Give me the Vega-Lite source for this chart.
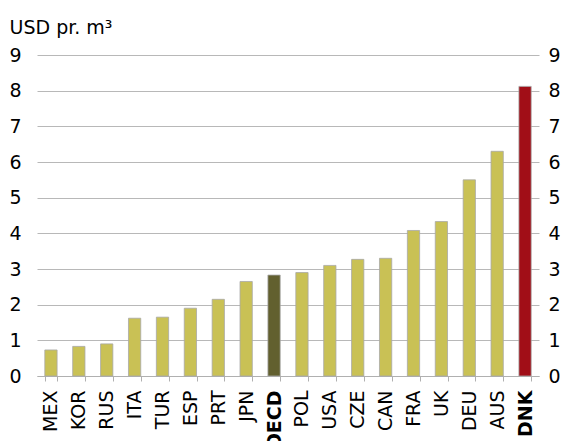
{
  "$schema": "https://vega.github.io/schema/vega-lite/v6.json",
  "width": 502,
  "height": 321,
  "autosize": {"type": "none"},
  "padding": {"left": 37, "top": 55, "right": 30, "bottom": 65},
  "background": "white",
  "config": {
    "font": "DejaVu Sans",
    "view": {"stroke": null},
    "axis": {"labelFont": "DejaVu Sans", "titleFont": "DejaVu Sans", "labelColor": "#000000", "titleColor": "#000000"}
  },
  "data": {
    "values": [
      {"country": "MEX", "value": 0.73, "group": "other"},
      {"country": "KOR", "value": 0.83, "group": "other"},
      {"country": "RUS", "value": 0.9, "group": "other"},
      {"country": "ITA", "value": 1.62, "group": "other"},
      {"country": "TUR", "value": 1.65, "group": "other"},
      {"country": "ESP", "value": 1.9, "group": "other"},
      {"country": "PRT", "value": 2.15, "group": "other"},
      {"country": "JPN", "value": 2.65, "group": "other"},
      {"country": "OECD", "value": 2.83, "group": "oecd"},
      {"country": "POL", "value": 2.9, "group": "other"},
      {"country": "USA", "value": 3.1, "group": "other"},
      {"country": "CZE", "value": 3.27, "group": "other"},
      {"country": "CAN", "value": 3.3, "group": "other"},
      {"country": "FRA", "value": 4.08, "group": "other"},
      {"country": "UK", "value": 4.33, "group": "other"},
      {"country": "DEU", "value": 5.5, "group": "other"},
      {"country": "AUS", "value": 6.3, "group": "other"},
      {"country": "DNK", "value": 8.12, "group": "dnk"}
    ]
  },
  "encoding": {
    "x": {
      "field": "country",
      "type": "nominal",
      "sort": null,
      "scale": {"paddingInner": 0.56, "paddingOuter": 0.28},
      "axis": {
        "title": null,
        "labelAngle": -90,
        "labelAlign": "right",
        "labelBaseline": "middle",
        "labelFontSize": 19,
        "labelPadding": 9,
        "labelFontWeight": {"expr": "datum.value == 'OECD' || datum.value == 'DNK' ? 'bold' : 'normal'"},
        "tickBand": "extent",
        "ticks": true,
        "tickSize": 5,
        "tickColor": "#b0b0b0",
        "domainColor": "#b0b0b0",
        "grid": false
      }
    },
    "y": {
      "field": "value",
      "type": "quantitative",
      "scale": {"domain": [0, 9], "nice": false}
    }
  },
  "layer": [
    {
      "mark": {"type": "bar", "stroke": "#a8a8a8", "strokeWidth": 0.8},
      "encoding": {
        "y": {
          "field": "value",
          "type": "quantitative",
          "scale": {"domain": [0, 9], "nice": false},
          "axis": {
            "orient": "left",
            "title": "USD pr. m³",
            "titleAngle": 0,
            "titleAlign": "left",
            "titleBaseline": "alphabetic",
            "titleX": -28,
            "titleY": -22,
            "titleFontSize": 19,
            "titleFontWeight": "normal",
            "values": [0, 1, 2, 3, 4, 5, 6, 7, 8, 9],
            "labelFontSize": 19,
            "labelPadding": 16,
            "ticks": false,
            "domain": false,
            "grid": true,
            "gridColor": "#b8b8b8",
            "gridWidth": 1
          }
        },
        "color": {
          "field": "group",
          "type": "nominal",
          "scale": {"domain": ["other", "oecd", "dnk"], "range": ["#c9c155", "#62602f", "#a10e17"]},
          "legend": null
        }
      }
    },
    {
      "mark": {"type": "bar", "opacity": 0},
      "encoding": {
        "y": {
          "field": "value",
          "type": "quantitative",
          "scale": {"domain": [0, 9], "nice": false},
          "axis": {
            "orient": "right",
            "title": null,
            "values": [0, 1, 2, 3, 4, 5, 6, 7, 8, 9],
            "labelFontSize": 19,
            "labelPadding": 9,
            "ticks": false,
            "domain": false,
            "grid": false
          }
        }
      }
    }
  ],
  "resolve": {"axis": {"y": "independent"}}
}
